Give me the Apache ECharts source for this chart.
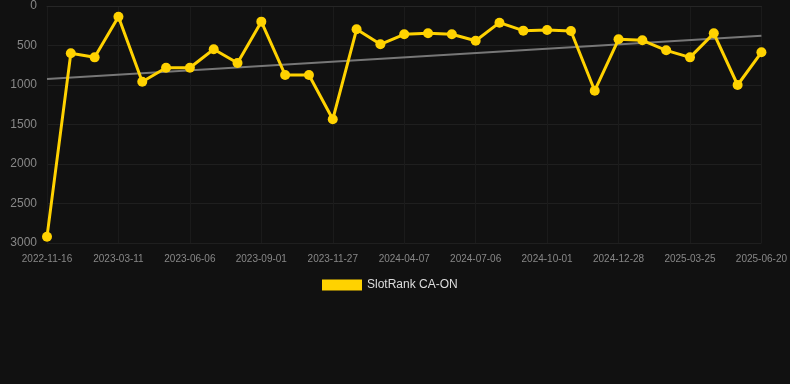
<!DOCTYPE html>
<html>
<head>
<meta charset="utf-8">
<script src="https://cdn.jsdelivr.net/npm/echarts@6/dist/echarts.min.js"></script>
<style>html,body{margin:0;padding:0;background:#111111;}#c{width:790px;height:384px;}</style>
</head>
<body>
<div id="c"></div>
<script>
const categories = [
  '2022-11-16','2022-12-25','2023-02-01','2023-03-11','2023-04-09','2023-05-08',
  '2023-06-06','2023-07-05','2023-08-03','2023-09-01','2023-09-30','2023-10-29',
  '2023-11-27','2024-01-10','2024-02-23','2024-04-07','2024-05-07','2024-06-06',
  '2024-07-06','2024-08-04','2024-09-02','2024-10-01','2024-10-30','2024-11-28',
  '2024-12-28','2025-01-26','2025-02-24','2025-03-25','2025-04-23','2025-05-22',
  '2025-06-20'
];
const rankValues = [
  2920, 599, 650, 135, 958, 781, 781, 548, 722, 198, 873, 873,
  1434, 295, 485, 358, 346, 358, 439, 211, 312, 304, 316, 1072,
  422, 434, 561, 650, 346, 1000, 586
];
const trendStart = 924;
const trendEnd = 376;
const yTicks = [0, 500, 1000, 1500, 2000, 2500, 3000];

const trendData = categories.map((c, i) => i === 0 ? trendStart : (i === categories.length - 1 ? trendEnd : null));

const chart = echarts.init(document.getElementById('c'));
chart.setOption({
  backgroundColor: '#111111',
  animation: false,
  grid: { left: 47, right: 28, top: 6, bottom: 141 },
  legend: {
    data: ['SlotRank CA-ON'],
    top: 274, left: 317,
    itemWidth: 40, itemHeight: 11, itemGap: 10,
    icon: 'rect',
    textStyle: { color: '#dddddd', fontSize: 12, fontFamily: 'Arial, Liberation Sans, sans-serif' }
  },
  xAxis: {
    type: 'category',
    data: categories,
    boundaryGap: false,
    axisLine: { show: true, lineStyle: { color: '#262626' } },
    axisTick: { show: false },
    axisLabel: { interval: 2, color: '#888888', fontSize: 10, margin: 11, fontFamily: 'Arial, Liberation Sans, sans-serif' },
    splitLine: { show: true, interval: 2, lineStyle: { color: '#1b1b1b' } }
  },
  yAxis: {
    type: 'value',
    inverse: true,
    min: yTicks[0], max: yTicks[yTicks.length - 1], interval: 500,
    axisLine: { show: false },
    axisTick: { show: false },
    axisLabel: { color: '#888888', fontSize: 12, margin: 10, formatter: v => String(v), fontFamily: 'Arial, Liberation Sans, sans-serif' },
    splitLine: { show: true, lineStyle: { color: '#1f1f1f' } }
  },
  series: [
    {
      name: 'SlotRank CA-ON',
      type: 'line',
      data: rankValues,
      color: '#ffd200',
      lineStyle: { width: 3, color: '#ffd200' },
      itemStyle: { color: '#ffd200' },
      symbol: 'circle',
      symbolSize: 10,
      z: 3
    },
    {
      name: 'Trend',
      type: 'line',
      data: trendData,
      connectNulls: true,
      symbol: 'none',
      lineStyle: { width: 2, color: '#777777' },
      z: 2
    }
  ]
});
</script>
</body>
</html>
